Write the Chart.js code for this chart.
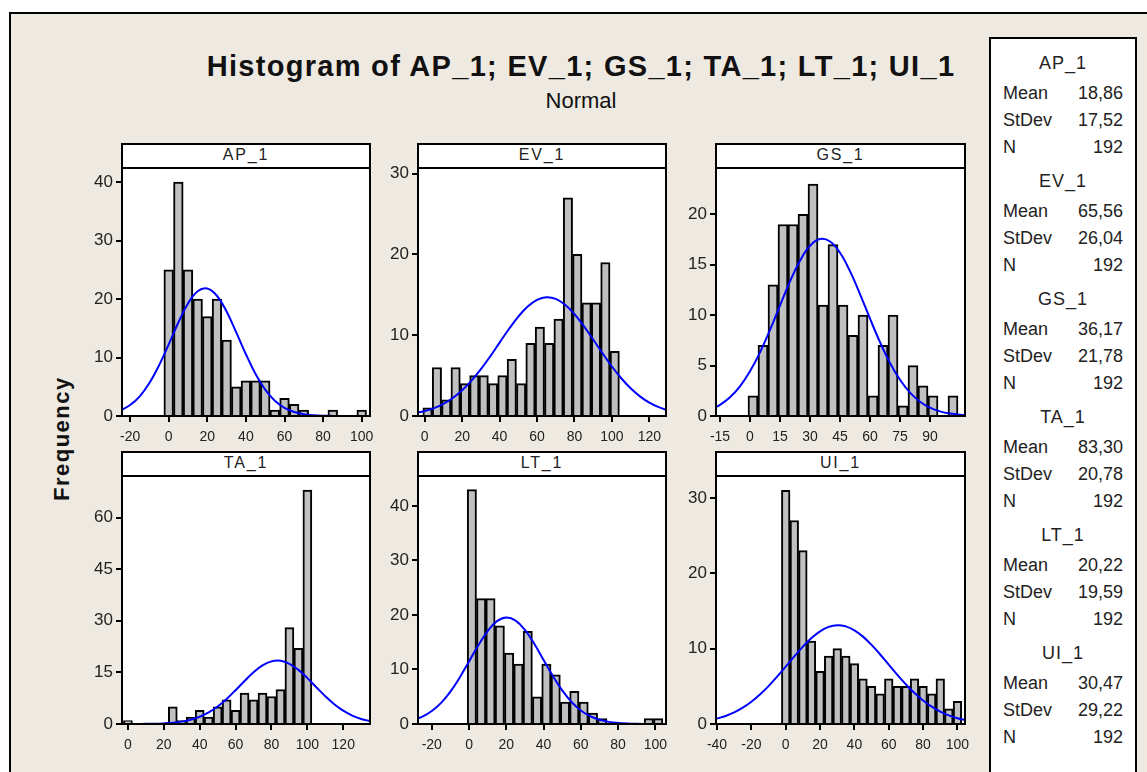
<!DOCTYPE html>
<html>
<head>
<meta charset="utf-8">
<script src="https://cdn.jsdelivr.net/npm/chart.js@4.4.0/dist/chart.umd.min.js"></script>
<style>
    html, body { margin: 0; padding: 0; background: #fff; }
    body { width: 1147px; height: 772px; position: relative; overflow: hidden;
           font-family: "Liberation Sans", Arial, sans-serif; color: #111; }
    #frame { position: absolute; left: 9px; top: 12px; width: 1200px; height: 800px;
             border-top: 2px solid #000; border-left: 2px solid #000; background: #eeeae1; }
    .abs { position: absolute; }
    #title { left: 181px; width: 800px; top: 50px; text-align: center; font-weight: bold;
             font-size: 29px; letter-spacing: 1.3px; white-space: nowrap; }
    #subtitle { left: 431px; width: 300px; top: 88px; text-align: center; font-size: 22px; }
    #ylabel { left: 2px; top: 428px; width: 120px; text-align: center; font-weight: bold;
              font-size: 22px; letter-spacing: 1.5px; transform: rotate(-90deg); }
    .strip { position: absolute; box-sizing: border-box; border: 2px solid #000; background: #fff;
             text-align: center; font-size: 16px; letter-spacing: 1.8px; line-height: 20px; color: #222; }
    canvas { position: absolute; }
    #legend { left: 989px; top: 37px; width: 148px; height: 740px; box-sizing: border-box;
              border: 2px solid #000; background: #fff; font-size: 18px; color: #222; }
    .lg-head { position: absolute; left: 0; width: 100%; text-align: center; letter-spacing: 1px; }
    .lg-lab { position: absolute; left: 12px; }
    .lg-val { position: absolute; right: 12px; text-align: right; }
</style>
</head>
<body>
<div id="frame"></div>
<div id="title" class="abs">Histogram of AP_1; EV_1; GS_1; TA_1; LT_1; UI_1</div>
<div id="subtitle" class="abs">Normal</div>
<div id="ylabel" class="abs">Frequency</div>
<div id="legend" class="abs"></div>

<script>
// Histogram bins (bin midpoints) and counts
const apBins = [0, 5, 10, 15, 20, 25, 30, 35, 40, 45, 50, 55, 60, 65, 70, 75, 80, 85, 90, 95, 100];
const apCounts = [25, 40, 25, 20, 17, 20, 13, 5, 6, 6, 6, 1, 3, 2, 1, 0, 0, 1, 0, 0, 1];

const evBins = [1.5, 6.5, 11.5, 16.5, 21.5, 26.5, 31.5, 36.5, 41.5, 46.5, 51.5, 56.5, 61.5, 66.5, 71.5, 76.5, 81.5, 86.5, 91.5, 96.5, 101.5];
const evCounts = [1, 6, 2, 6, 4, 5, 5, 4, 5, 7, 4, 9, 11, 9, 12, 27, 20, 14, 14, 19, 8];

const gsBins = [1.5, 6.5, 11.5, 16.5, 21.5, 26.5, 31.5, 36.5, 41.5, 46.5, 51.5, 56.5, 61.5, 66.5, 71.5, 76.5, 81.5, 86.5, 91.5, 96.5, 101.5];
const gsCounts = [2, 7, 13, 19, 19, 20, 23, 11, 17, 11, 8, 10, 2, 7, 10, 1, 5, 3, 2, 0, 2];

const taBins = [0, 5, 10, 15, 20, 25, 30, 35, 40, 45, 50, 55, 60, 65, 70, 75, 80, 85, 90, 95, 100];
const taCounts = [1, 0, 0, 0, 0, 5, 1, 2, 4, 2, 5, 7, 4, 9, 7, 9, 8, 10, 28, 22, 68];

const ltBins = [1.5, 6.5, 11.5, 16.5, 21.5, 26.5, 31.5, 36.5, 41.5, 46.5, 51.5, 56.5, 61.5, 66.5, 71.5, 76.5, 81.5, 86.5, 91.5, 96.5, 101.5];
const ltCounts = [43, 23, 23, 18, 13, 11, 17, 5, 11, 9, 4, 6, 4, 2, 1, 0, 0, 0, 0, 1, 1];

const uiBins = [0, 5, 10, 15, 20, 25, 30, 35, 40, 45, 50, 55, 60, 65, 70, 75, 80, 85, 90, 95, 100];
const uiCounts = [31, 27, 23, 11, 7, 9, 10, 9, 8, 6, 5, 4, 6, 5, 5, 6, 5, 4, 6, 2, 3];

// Fitted normal curves
const apCurveX = [-25, -20, -15, -10, -5, 0, 5, 10, 15, 20, 25, 30, 35, 40, 45, 50, 55, 60, 65, 70, 75, 80, 85];
const apCurveY = [0.95, 1.87, 3.37, 5.63, 8.65, 12.25, 15.99, 19.24, 21.34, 21.81, 20.56, 17.86, 14.3, 10.56, 7.18, 4.51, 2.6, 1.39, 0.68, 0.31, 0.13, 0.05, 0.02];

const evCurveX = [-5, 0, 5, 10, 15, 20, 25, 30, 35, 40, 45, 50, 55, 60, 65, 70, 75, 80, 85, 90, 95, 100, 105, 110, 115, 120, 125, 130];
const evCurveY = [0.37, 0.62, 0.98, 1.51, 2.23, 3.18, 4.37, 5.79, 7.39, 9.09, 10.77, 12.3, 13.55, 14.38, 14.71, 14.5, 13.77, 12.61, 11.13, 9.47, 7.76, 6.13, 4.67, 3.43, 2.43, 1.65, 1.09, 0.69];

const gsCurveX = [-20, -15, -10, -5, 0, 5, 10, 15, 20, 25, 30, 35, 40, 45, 50, 55, 60, 65, 70, 75, 80, 85, 90, 95, 100, 105, 110];
const gsCurveY = [0.63, 1.11, 1.86, 2.94, 4.43, 6.31, 8.54, 10.96, 13.35, 15.41, 16.89, 17.55, 17.31, 16.19, 14.37, 12.1, 9.66, 7.32, 5.26, 3.59, 2.32, 1.42, 0.83, 0.46, 0.24, 0.12, 0.06];

const taCurveX = [5, 10, 15, 20, 25, 30, 35, 40, 45, 50, 55, 60, 65, 70, 75, 80, 85, 90, 95, 100, 105, 110, 115, 120, 125, 130, 135];
const taCurveY = [0.02, 0.04, 0.08, 0.18, 0.36, 0.69, 1.24, 2.1, 3.37, 5.1, 7.29, 9.83, 12.51, 15.02, 17.02, 18.2, 18.37, 17.5, 15.73, 13.34, 10.68, 8.07, 5.76, 3.87, 2.46, 1.47, 0.83];

const ltCurveX = [-30, -25, -20, -15, -10, -5, 0, 5, 10, 15, 20, 25, 30, 35, 40, 45, 50, 55, 60, 65, 70, 75, 80, 85, 90, 95];
const ltCurveY = [0.73, 1.36, 2.38, 3.88, 5.95, 8.54, 11.48, 14.46, 17.06, 18.87, 19.55, 18.98, 17.26, 14.71, 11.74, 8.78, 6.16, 4.04, 2.49, 1.43, 0.77, 0.39, 0.19, 0.08, 0.03, 0.01];

const uiCurveX = [-40, -35, -30, -25, -20, -15, -10, -5, 0, 5, 10, 15, 20, 25, 30, 35, 40, 45, 50, 55, 60, 65, 70, 75, 80, 85, 90, 95, 100, 105];
const uiCurveY = [0.72, 1.07, 1.54, 2.16, 2.95, 3.91, 5.02, 6.28, 7.61, 8.97, 10.26, 11.4, 12.29, 12.88, 13.11, 12.95, 12.43, 11.59, 10.49, 9.22, 7.87, 6.52, 5.25, 4.1, 3.12, 2.3, 1.65, 1.14, 0.77, 0.51];

// Tick labels
const apXTicks = [-20, 0, 20, 40, 60, 80, 100];
const apYTicks = [0, 10, 20, 30, 40];
const evXTicks = [0, 20, 40, 60, 80, 100, 120];
const evYTicks = [0, 10, 20, 30];
const gsXTicks = [-15, 0, 15, 30, 45, 60, 75, 90];
const gsYTicks = [0, 5, 10, 15, 20];
const taXTicks = [0, 20, 40, 60, 80, 100, 120];
const taYTicks = [0, 15, 30, 45, 60];
const ltXTicks = [-20, 0, 20, 40, 60, 80, 100];
const ltYTicks = [0, 10, 20, 30, 40];
const uiXTicks = [-40, -20, 0, 20, 40, 60, 80, 100];
const uiYTicks = [0, 10, 20, 30];

// Summary statistics
const varNames = ['AP_1', 'EV_1', 'GS_1', 'TA_1', 'LT_1', 'UI_1'];
const means = ['18,86', '65,56', '36,17', '83,30', '20,22', '30,47'];
const stdevs = ['17,52', '26,04', '21,78', '20,78', '19,59', '29,22'];
const counts = ['192', '192', '192', '192', '192', '192'];

// Layout
const Y_W = 46, X_H = 36, PAD_T = 12, PAD_R = 22;
const rows = [
    { headTop: 144, plotTop: 168, plotBottom: 416 },
    { headTop: 452, plotTop: 476, plotBottom: 724 }
];
const cols = [
    { left: 122, right: 370 },
    { left: 418, right: 666 },
    { left: 716, right: 965 }
];

const panels = [
    { name: 'AP_1', bins: apBins, counts: apCounts, cx: apCurveX, cy: apCurveY, xt: apXTicks, yt: apYTicks, xMin: -24.2, xMax: 104.3, yMax: 42.4, row: 0, col: 0 },
    { name: 'EV_1', bins: evBins, counts: evCounts, cx: evCurveX, cy: evCurveY, xt: evXTicks, yt: evYTicks, xMin: -3.6, xMax: 128.9, yMax: 30.7, row: 0, col: 1 },
    { name: 'GS_1', bins: gsBins, counts: gsCounts, cx: gsCurveX, cy: gsCurveY, xt: gsXTicks, yt: gsYTicks, xMin: -17, xMax: 107.5, yMax: 24.6, row: 0, col: 2 },
    { name: 'TA_1', bins: taBins, counts: taCounts, cx: taCurveX, cy: taCurveY, xt: taXTicks, yt: taYTicks, xMin: -3.3, xMax: 134.9, yMax: 72.1, row: 1, col: 0 },
    { name: 'LT_1', bins: ltBins, counts: ltCounts, cx: ltCurveX, cy: ltCurveY, xt: ltXTicks, yt: ltYTicks, xMin: -27.4, xMax: 105.7, yMax: 45.5, row: 1, col: 1 },
    { name: 'UI_1', bins: uiBins, counts: uiCounts, cx: uiCurveX, cy: uiCurveY, xt: uiXTicks, yt: uiYTicks, xMin: -40.6, xMax: 104.4, yMax: 32.9, row: 1, col: 2 }
];

// white plot area and black frame
const plotFrame = {
    id: 'plotFrame',
    beforeDraw(chart) {
        const a = chart.chartArea, ctx = chart.ctx;
        ctx.save();
        ctx.fillStyle = '#fff';
        ctx.fillRect(a.left, a.top, a.width, a.height);
        ctx.restore();
    },
    afterDraw(chart) {
        const a = chart.chartArea, ctx = chart.ctx;
        ctx.save();
        ctx.lineWidth = 2;
        ctx.strokeStyle = '#000';
        ctx.strokeRect(a.left, a.top, a.width, a.height);
        ctx.restore();
    }
};

function makePanel(p) {
    const r = rows[p.row], c = cols[p.col];
    const boxW = c.right - c.left;
    const plotH = r.plotBottom - r.plotTop;

    const strip = document.createElement('div');
    strip.className = 'strip';
    strip.style.left = (c.left - 1) + 'px';
    strip.style.top = (r.headTop - 1) + 'px';
    strip.style.width = (boxW + 2) + 'px';
    strip.style.height = (r.plotTop - r.headTop + 2) + 'px';
    strip.textContent = p.name;

    const canvas = document.createElement('canvas');
    canvas.width = Y_W + boxW + PAD_R;
    canvas.height = PAD_T + plotH + X_H;
    canvas.style.left = (c.left - Y_W) + 'px';
    canvas.style.top = (r.plotTop - PAD_T) + 'px';
    document.body.appendChild(canvas);
    document.body.appendChild(strip);

    new Chart(canvas, {
        type: 'bar',
        data: {
            datasets: [{
                type: 'line',
                data: p.cx.map((x, i) => ({ x: x, y: p.cy[i] })),
                borderColor: '#0000ff',
                borderWidth: 2,
                pointRadius: 0,
                tension: 0.4,
                fill: false,
                order: 0
            }, {
                type: 'bar',
                data: p.bins.map((x, i) => ({ x: x, y: p.counts[i] })),
                backgroundColor: '#c0c0c0',
                borderColor: '#000',
                borderWidth: 2,
                barPercentage: 1,
                categoryPercentage: 1,
                order: 1
            }]
        },
        options: {
            responsive: false,
            animation: false,
            layout: { padding: { top: PAD_T, right: PAD_R, left: 0, bottom: 0 } },
            plugins: { legend: { display: false }, tooltip: { enabled: false } },
            scales: {
                x: {
                    type: 'linear',
                    offset: false,
                    min: p.xMin,
                    max: p.xMax,
                    grid: { offset: false, drawOnChartArea: false, drawTicks: true, tickLength: 6, color: '#000', lineWidth: 2 },
                    border: { display: false },
                    ticks: { color: '#222', font: { size: 14, family: '"Liberation Sans", Arial, sans-serif' }, padding: 7, maxRotation: 0, autoSkip: false, callback: v => String(v) },
                    afterBuildTicks: s => { s.ticks = p.xt.map(v => ({ value: v })); },
                    afterFit: s => { s.height = X_H; s.paddingLeft = 0; s.paddingRight = 0; }
                },
                y: {
                    min: 0,
                    max: p.yMax,
                    grid: { drawOnChartArea: false, drawTicks: true, tickLength: 6, color: '#000', lineWidth: 2 },
                    border: { display: false },
                    ticks: { color: '#222', font: { size: 17, family: '"Liberation Sans", Arial, sans-serif' }, padding: 3, autoSkip: false, callback: v => String(v) },
                    afterBuildTicks: s => { s.ticks = p.yt.map(v => ({ value: v })); },
                    afterFit: s => { s.width = Y_W; s.paddingTop = 0; s.paddingBottom = 0; }
                }
            }
        },
        plugins: [plotFrame]
    });
}

panels.forEach(makePanel);

// Statistics box on the right
const legend = document.getElementById('legend');
varNames.forEach((name, i) => {
    const g = 25 + i * 118;
    const rowsTxt = [['Mean', means[i]], ['StDev', stdevs[i]], ['N', counts[i]]];
    const head = document.createElement('div');
    head.className = 'lg-head';
    head.style.top = (g - 11) + 'px';
    head.textContent = name;
    legend.appendChild(head);
    rowsTxt.forEach((rt, j) => {
        const y = g + 30 + j * 27 - 11;
        const lab = document.createElement('div');
        lab.className = 'lg-lab';
        lab.style.top = y + 'px';
        lab.textContent = rt[0];
        const val = document.createElement('div');
        val.className = 'lg-val';
        val.style.top = y + 'px';
        val.textContent = rt[1];
        legend.appendChild(lab);
        legend.appendChild(val);
    });
});
</script>
</body>
</html>
